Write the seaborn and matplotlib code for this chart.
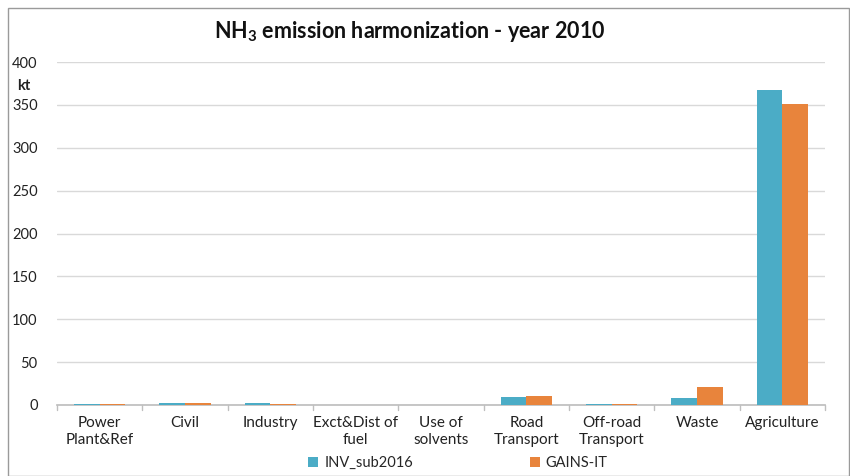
import matplotlib
matplotlib.use("Agg")
import matplotlib.pyplot as plt
import seaborn as sns
import pandas as pd
from matplotlib.patches import Rectangle
from matplotlib.transforms import blended_transform_factory

categories = ["Power\nPlant&Ref", "Civil", "Industry", "Exct&Dist of\nfuel", "Use of\nsolvents",
              "Road\nTransport", "Off-road\nTransport", "Waste", "Agriculture"]
inv_sub2016 = [1.0, 2.5, 2.0, 0.0, 0.0, 9.0, 1.0, 8.0, 367.0]
gains_it = [1.0, 2.5, 1.0, 0.0, 0.0, 10.5, 1.0, 21.0, 351.0]
series_names = ["INV_sub2016", "GAINS-IT"]
yticks = [0, 50, 100, 150, 200, 250, 300, 350, 400]

df = pd.DataFrame({
    "cat": categories * 2,
    "val": inv_sub2016 + gains_it,
    "series": [series_names[0]] * len(categories) + [series_names[1]] * len(categories),
})

sns.set_theme(style="white")
plt.rcParams["font.family"] = ["Lato", "DejaVu Sans"]
plt.rcParams["mathtext.default"] = "regular"

fig = plt.figure(figsize=(8.5, 4.76), dpi=100)
ax = fig.add_axes([57/850, 1-405/476, (825-57)/850, (405-62)/476])

palette = {series_names[0]: "#4BACC6", series_names[1]: "#E8843C"}
sns.barplot(data=df, x="cat", y="val", hue="series", palette=palette, ax=ax,
            width=0.6, saturation=1, legend=True, zorder=3, linewidth=0)

ax.set_ylim(0, 400)
ax.set_xlim(-0.5, len(categories) - 0.5)
ax.set_yticks(yticks)
ax.set_yticklabels([str(t) for t in yticks], fontsize=10.5, color="#222222")
ax.yaxis.grid(True, color="#d9d9d9", linewidth=1, zorder=0)
ax.set_xlabel("")
ax.set_ylabel("")
for s in ["top", "right", "left"]:
    ax.spines[s].set_visible(False)
ax.spines["bottom"].set_color("#bfbfbf")
ax.tick_params(axis="y", length=0, pad=14)
ax.set_xticks(range(len(categories)))
ax.set_xticklabels(categories, fontsize=11, color="#222222", linespacing=1.3)
ax.tick_params(axis="x", length=0, pad=8)
tr = blended_transform_factory(ax.transData, ax.transAxes)
for b in [i - 0.5 for i in range(len(categories) + 1)]:
    ax.plot([b, b], [0, -0.014], color="#bfbfbf", lw=1, clip_on=False, zorder=2, transform=tr)

ax.text(-0.035, 0.93, "kt", transform=ax.transAxes, fontsize=10.5, fontweight="bold",
        ha="right", va="center", color="#222222")

fig.text(410/850, 1-32/476, "NH$_3$ emission harmonization - year 2010", ha="center", va="center",
         fontsize=15.5, fontweight="bold", color="#111111")

leg = ax.legend(loc="center", bbox_to_anchor=(0.522, -0.17), ncol=2, frameon=False,
                fontsize=10.5, handlelength=0.7, handleheight=0.7, columnspacing=8, handletextpad=0.4)

fig.patches.append(Rectangle((8/850, 0), 1 - 9/850, 1 - 8/476, transform=fig.transFigure,
                             fill=False, edgecolor="#9a9a9a", lw=1))

fig.savefig("out.png", dpi=100)
